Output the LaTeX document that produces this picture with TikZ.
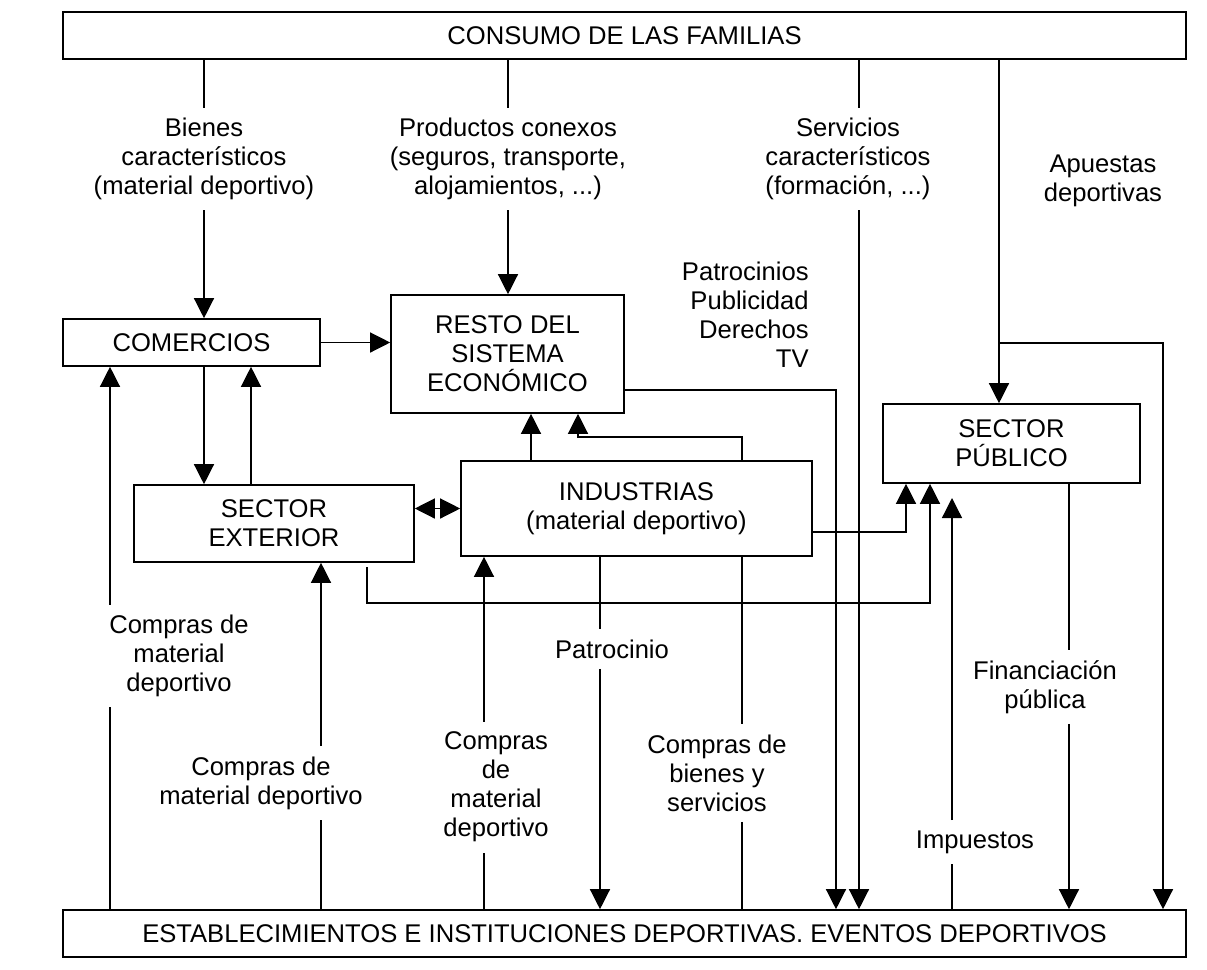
\documentclass[tikz,border=0pt]{standalone}
\usepackage{fontspec}
\setmainfont{Liberation Sans}
\usetikzlibrary{arrows.meta}

\begin{document}
\begin{tikzpicture}[x=0.5pt, y=-0.5pt,
    font=\fontsize{12.8}{14.5}\selectfont,
    box/.style={draw, line width=0.8pt, inner sep=0pt, align=center},
    lbl/.style={align=center, inner sep=5pt},
    flow/.style={line width=0.65pt},
    arr/.style={flow, -{Triangle[length=10pt,width=10pt]}},
    twoway/.style={flow, {Triangle[length=10pt,width=10pt]}-{Triangle[length=10pt,width=10pt]}}]

    \useasboundingbox (0,0) rectangle (1207,970);

    % --- Boxes ---
    \node[box, minimum width=561.5pt, minimum height=23.5pt] (consumo) at (624.5,35.5) {CONSUMO DE LAS FAMILIAS};
    \node[box, minimum width=561.5pt, minimum height=23.5pt] (estab) at (624.5,933.5) {ESTABLECIMIENTOS E INSTITUCIONES DEPORTIVAS. EVENTOS DEPORTIVOS};
    \node[box, minimum width=128.5pt, minimum height=23.5pt] (comercios) at (191.5,342.5) {COMERCIOS};
    \node[box, minimum width=116.5pt, minimum height=59pt] (resto) at (507.5,354) {RESTO DEL\\SISTEMA\\ECONÓMICO};
    \node[box, minimum width=140pt, minimum height=38.5pt] (exterior) at (274,523.5) {SECTOR\\EXTERIOR};
    \node[box, minimum width=175.5pt, minimum height=47.5pt] (industrias) at (636.5,508.5) {INDUSTRIAS\\(material deportivo)};
    \node[box, minimum width=128.5pt, minimum height=39.5pt] (publico) at (1011.5,443.5) {SECTOR\\PÚBLICO};

    % --- Flow labels ---
    \node[lbl] (bienes) at (204,159) {Bienes\\característicos\\(material deportivo)};
    \node[lbl] (conexos) at (508,159) {Productos conexos\\(seguros, transporte,\\alojamientos, ...)};
    \node[lbl] (servicios) at (848,159) {Servicios\\característicos\\(formación, ...)};
    \node[lbl, align=right, anchor=east] (patroc) at (819,315) {Patrocinios\\Publicidad\\Derechos\\TV};
    \node[lbl] (apuestas) at (1103,181) {Apuestas\\deportivas};
    \node[lbl] (cmpA) at (179,656) {Compras de\\material\\deportivo};
    \node[lbl] (cmpB) at (261,783) {Compras de\\material deportivo};
    \node[lbl] (cmpC) at (496,787) {Compras\\de\\material\\deportivo};
    \node[lbl] (patrocinio) at (612,649) {Patrocinio};
    \node[lbl] (cmpD) at (717,773) {Compras de\\bienes y\\servicios};
    \node[lbl] (impuestos) at (975,842) {Impuestos};
    \node[lbl] (financ) at (1045,687) {Financiación\\pública};

    % --- Coordinates of the flow lines ---
    \coordinate (xServ) at (859,0);
    \coordinate (xApu) at (999,0);
    \coordinate (apuJ) at (999,343);
    \coordinate (xApuB) at (1163,0);
    \coordinate (yResto) at (0,390);
    \coordinate (xResto) at (836,0);
    \coordinate (xComUp) at (251,0);
    \coordinate (xLeft) at (110,0);
    \coordinate (xExt) at (321,0);
    \coordinate (xInd) at (484,0);
    \coordinate (xPat) at (600,0);
    \coordinate (xCbs) at (742,0);
    \coordinate (xIR) at (531,0);
    \coordinate (irTurn) at (578,437);
    \coordinate (ipTurn) at (906,532);
    \coordinate (epStart) at (367,567);
    \coordinate (epTurn) at (930,603);
    \coordinate (xImp) at (952,0);
    \coordinate (impTip) at (952,498);
    \coordinate (xFin) at (1069,0);

    % --- From the families ---
    \draw[flow] (consumo.south -| bienes) -- (bienes.north);
    \draw[arr] (bienes.south) -- (bienes.south |- comercios.north);
    \draw[flow] (consumo.south -| conexos) -- (conexos.north);
    \draw[arr] (conexos.south) -- (conexos.south |- resto.north);
    \draw[flow] (consumo.south -| xServ) -- (servicios.north -| xServ);
    \draw[arr] (servicios.south -| xServ) -- (estab.north -| xServ);
    \draw[arr] (consumo.south -| xApu) -- (publico.north -| xApu);
    \draw[arr] (apuJ) -| (estab.north -| xApuB);

    % --- Shops, rest of the economy, foreign sector ---
    \draw[arr] (comercios.east) -- (comercios.east -| resto.west);
    \draw[arr] (resto.east |- yResto) -| (estab.north -| xResto);
    \draw[arr] (comercios.south -| bienes) -- (exterior.north -| bienes);
    \draw[arr] (exterior.north -| xComUp) -- (comercios.south -| xComUp);
    \draw[twoway] (exterior.east |- industrias) -- (industrias.west);

    % --- Industries ---
    \draw[arr] (industrias.north -| xIR) -- (resto.south -| xIR);
    \draw[arr] (industrias.north -| xCbs) |- (irTurn) -- (resto.south -| irTurn);
    \draw[arr] (industrias.east |- ipTurn) -| (publico.south -| ipTurn);
    \draw[arr] (epStart) |- (epTurn) -- (publico.south -| epTurn);
    \draw[flow] (industrias.south -| xPat) -- (patrocinio.north -| xPat);
    \draw[arr] (patrocinio.south -| xPat) -- (estab.north -| xPat);
    \draw[flow] (industrias.south -| xCbs) -- (cmpD.north -| xCbs);
    \draw[flow] (cmpD.south -| xCbs) -- (estab.north -| xCbs);

    % --- Purchases of the sports establishments ---
    \draw[flow] (estab.north -| xLeft) -- (cmpA.south -| xLeft);
    \draw[arr] (cmpA.north -| xLeft) -- (comercios.south -| xLeft);
    \draw[flow] (estab.north -| xExt) -- (cmpB.south -| xExt);
    \draw[arr] (cmpB.north -| xExt) -- (exterior.south -| xExt);
    \draw[flow] (estab.north -| xInd) -- (cmpC.south -| xInd);
    \draw[arr] (cmpC.north -| xInd) -- (industrias.south -| xInd);

    % --- Public sector ---
    \draw[flow] (estab.north -| xImp) -- (impuestos.south -| xImp);
    \draw[arr] (impuestos.north -| xImp) -- (impTip);
    \draw[flow] (publico.south -| xFin) -- (financ.north -| xFin);
    \draw[arr] (financ.south -| xFin) -- (estab.north -| xFin);

\end{tikzpicture}
\end{document}
